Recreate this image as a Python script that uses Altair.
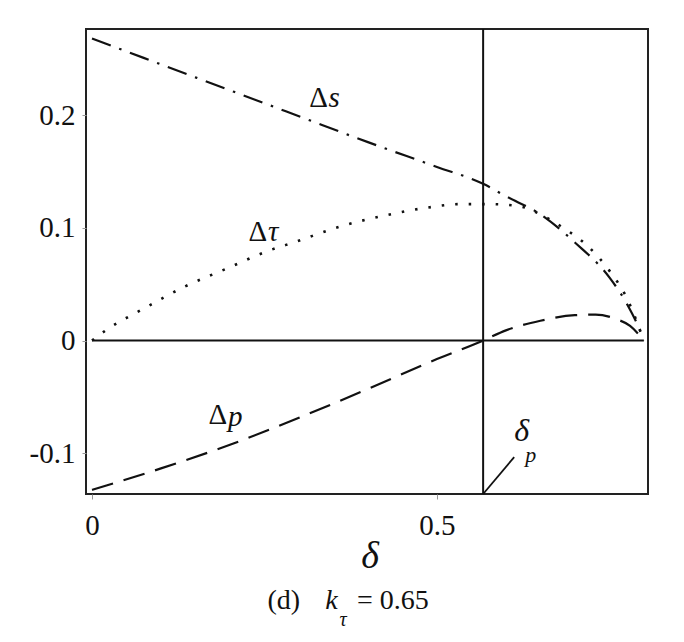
import altair as alt
import pandas as pd

# ---- data ----
ds_x = [0.0, 0.1, 0.2, 0.3, 0.4, 0.5, 0.567, 0.6, 0.65, 0.7, 0.75, 0.775, 0.79, 0.8]
ds_y = [0.268, 0.245, 0.222, 0.199, 0.176, 0.154, 0.139, 0.128, 0.112, 0.087, 0.056, 0.033, 0.015, 0.0]

dt_x = [0.0, 0.02, 0.077, 0.135, 0.196, 0.253, 0.297, 0.359, 0.425, 0.487, 0.533, 0.577, 0.62, 0.65, 0.683, 0.72, 0.75, 0.775, 0.8]
dt_y = [0.0, 0.009, 0.029, 0.048, 0.064, 0.079, 0.088, 0.101, 0.111, 0.118, 0.121, 0.121, 0.119, 0.112, 0.100, 0.083, 0.062, 0.038, 0.0]

dp_x = [0.0, 0.1, 0.2, 0.3, 0.4, 0.5, 0.567, 0.6, 0.65, 0.7, 0.73, 0.76, 0.78, 0.8]
dp_y = [-0.1325, -0.1135, -0.0925, -0.0685, -0.043, -0.0165, 0.0, 0.009, 0.0175, 0.0225, 0.023, 0.019, 0.013, 0.0]

delta_p = 0.567
x_ticks = [0, 0.5]
y_ticks = [-0.1, 0, 0.1, 0.2]
x_dom = [-0.0087, 0.806]
y_dom = [-0.1362, 0.2764]

FONT = "Liberation Serif"

xs = alt.Scale(domain=x_dom, nice=False, zero=False)
ys = alt.Scale(domain=y_dom, nice=False, zero=False)

X = alt.X("x:Q", scale=xs, title=None,
          axis=alt.Axis(values=x_ticks, labelExpr="'' + datum.value", labelFontSize=29,
                        labelFont=FONT, labelColor="#111", tickSize=5, tickColor="#999",
                        labelPadding=12, domain=False, grid=False))
Y = alt.Y("y:Q", scale=ys, title=None,
          axis=alt.Axis(values=y_ticks, labelExpr="'' + datum.value", labelFontSize=29,
                        labelFont=FONT, labelColor="#111", tickSize=4, tickColor="#999",
                        labelPadding=7, domain=False, grid=False))

def line(xv, yv, dash, width=2.2):
    df = pd.DataFrame({"x": xv, "y": yv})
    return alt.Chart(df).mark_line(color="#111", strokeWidth=width, strokeDash=dash,
                                   interpolate="monotone").encode(x=X, y=Y)

s_line = line(ds_x, ds_y, [20, 9, 2.5, 9])
t_line = line(dt_x, dt_y, [2.5, 11], 2.6)
p_line = line(dp_x, dp_y, [22, 11])

zero_df = pd.DataFrame({"x": [0.0], "x2": [0.8], "y": [0.0]})
zero_rule = alt.Chart(zero_df).mark_rule(color="#111", strokeWidth=2).encode(
    x=X, x2="x2:Q", y=Y)

vline_df = pd.DataFrame({"x": [delta_p], "y": [y_dom[0]], "y2": [y_dom[1]]})
vline = alt.Chart(vline_df).mark_rule(color="#111", strokeWidth=2).encode(
    x=X, y=Y, y2="y2:Q")

lead_df = pd.DataFrame({"x": [delta_p, 0.612], "y": [y_dom[0], -0.1035]})
leader = alt.Chart(lead_df).mark_line(color="#111", strokeWidth=1.8).encode(x=X, y=Y)

def text(df, size=26, style="normal", align="center", baseline="middle"):
    return alt.Chart(pd.DataFrame(df)).mark_text(
        font=FONT, fontSize=size, fontStyle=style, align=align, baseline=baseline,
        color="#111").encode(x=X, y=Y, text="t:N")

deltas = text({"x": [0.342, 0.254, 0.196], "y": [0.215, 0.0965, -0.066], "t": ["Δ", "Δ", "Δ"]},
              size=29, align="right")
letters = text({"x": [0.343, 0.255, 0.197], "y": [0.215, 0.0965, -0.068], "t": ["s", "τ", "p"]},
               size=29, style="italic", align="left")
dp_lab = text({"x": [0.623], "y": [-0.080], "t": ["δ"]}, size=32, style="italic")
dp_sub = text({"x": [0.636], "y": [-0.102], "t": ["p"]}, size=22, style="italic")

ax_title = text({"x": [0.403], "y": [-0.192], "t": ["δ"]}, size=38, style="italic")
cap1 = text({"x": [0.278], "y": [-0.231], "t": ["(d)"]}, size=28)
cap2 = text({"x": [0.347], "y": [-0.231], "t": ["k"]}, size=28, style="italic")
cap3 = text({"x": [0.364], "y": [-0.248], "t": ["τ"]}, size=20, style="italic")
cap4 = text({"x": [0.384], "y": [-0.231], "t": ["= 0.65"]}, size=28, align="left")

chart = alt.layer(
    zero_rule, vline, leader, s_line, t_line, p_line,
    deltas, letters, dp_lab, dp_sub, ax_title, cap1, cap2, cap3, cap4
).properties(
    width=562, height=465,
    autosize=alt.AutoSizeParams(type="none"),
    padding={"left": 78, "top": 21, "right": 28, "bottom": 140},
    background="white",
).configure_view(stroke="#222", strokeWidth=2)

chart.save("out.html", embed_options={"renderer": "svg", "actions": False})
